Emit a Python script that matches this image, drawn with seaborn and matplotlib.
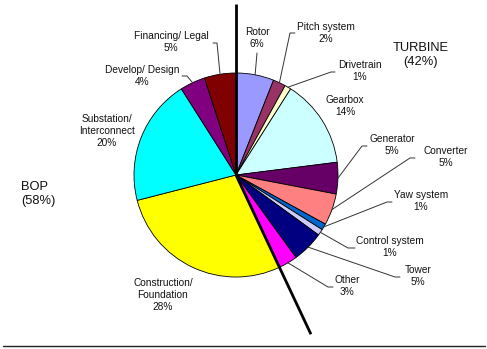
import numpy as np
import matplotlib
matplotlib.use("Agg")
import matplotlib.pyplot as plt
import seaborn as sns

# Cost breakdown of a wind project: turbine components then balance of plant
components = ["Rotor", "Pitch system", "Drivetrain", "Gearbox", "Generator",
              "Converter", "Yaw system", "Control system", "Tower", "Other",
              "Construction/\nFoundation", "Substation/\nInterconnect",
              "Develop/ Design", "Financing/ Legal"]
shares = [6, 2, 1, 14, 5, 5, 1, 1, 5, 3, 28, 20, 4, 5]
slice_colors = ["#9999FF", "#993366", "#FFFFCC", "#CCFFFF", "#660066",
                "#FF8080", "#0066CC", "#CCCCFF", "#000080", "#FF00FF",
                "#FFFF00", "#00FFFF", "#800080", "#800000"]
n_turbine = 10
group_names = ["TURBINE", "BOP"]
group_shares = [42, 58]

sns.set_theme(style="white")
plt.rcParams["font.family"] = ["Liberation Sans", "DejaVu Sans"]

W, H = 487, 349
fig = plt.figure(figsize=(W / 100, H / 100), dpi=100)
ax = fig.add_axes([0, 0, 1, 1])


def P(x, y):
    """Pixel position (origin top-left) to axes data position."""
    return x, H - y


cx, cy = P(236, 175)
R = 102
wedges, _ = ax.pie(shares, colors=slice_colors, startangle=90, counterclock=False,
                   center=(cx, cy), radius=R,
                   wedgeprops=dict(edgecolor="black", linewidth=0.6))
ax.set_xlim(0, W)
ax.set_ylim(0, H)
ax.set_aspect("equal")
ax.axis("off")


def edge_point(w):
    mid = np.deg2rad((w.theta1 + w.theta2) / 2)
    return cx + R * np.cos(mid), cy + R * np.sin(mid)


# label block centre (pixels) and leader elbow points (pixels)
layout = {
    "Rotor": ((257, 38), [(257, 53)]),
    "Pitch system": ((326, 33), [(295, 33), (290, 33)]),
    "Drivetrain": ((360, 71), [(335, 72), (331, 72)]),
    "Gearbox": ((345, 106), []),
    "Generator": ((392, 145), [(367, 146), (362, 146)]),
    "Converter": ((446, 157), [(415, 158), (410, 158)]),
    "Yaw system": ((421, 201), [(392, 202), (387, 202)]),
    "Control system": ((390, 247), [(355, 248), (348, 248)]),
    "Tower": ((418, 276), [(400, 277), (395, 277)]),
    "Other": ((347, 286), [(333, 287), (328, 287)]),
    "Construction/\nFoundation": ((163, 295), None),
    "Substation/\nInterconnect": ((107, 131), None),
    "Develop/ Design": ((142, 76), [(182, 76), (187, 76)]),
    "Financing/ Legal": ((171, 42), [(213, 43), (217, 43)]),
}

txt_color = "#111111"
for name, share, w in zip(components, shares, wedges):
    (tx, ty), elbows = layout[name]
    ax.text(*P(tx, ty), f"{name}\n{share}%", ha="center", va="center",
            fontsize=7.3, color=txt_color, linespacing=1.3)
    if elbows:
        pts = [P(x, y) for x, y in elbows] + [edge_point(w)]
        xs, ys = zip(*pts)
        ax.plot(xs, ys, color="#333333", linewidth=0.7)

# Divider between turbine and balance-of-plant slices
split = np.deg2rad(wedges[n_turbine - 1].theta1)
top = P(236, 4)
ax.plot([top[0], cx], [top[1], cy], color="black", linewidth=2.0,
        solid_capstyle="butt")
L = 176
ax.plot([cx, cx + L * np.cos(split)], [cy, cy + L * np.sin(split)],
        color="black", linewidth=2.0, solid_capstyle="butt")

ax.text(*P(421, 55), f"{group_names[0]}\n({group_shares[0]}%)", ha="center",
        va="center", fontsize=9.3, color=txt_color, linespacing=1.3)
ax.text(*P(21, 194), f"{group_names[1]}\n({group_shares[1]}%)", ha="left",
        va="center", fontsize=9.3, color=txt_color, linespacing=1.3)

# Rule under the chart
ax.plot([P(3, 346)[0], P(485, 346)[0]], [P(3, 346)[1]] * 2, color="#222222",
        linewidth=1.0)

fig.savefig("out.png", dpi=100)
